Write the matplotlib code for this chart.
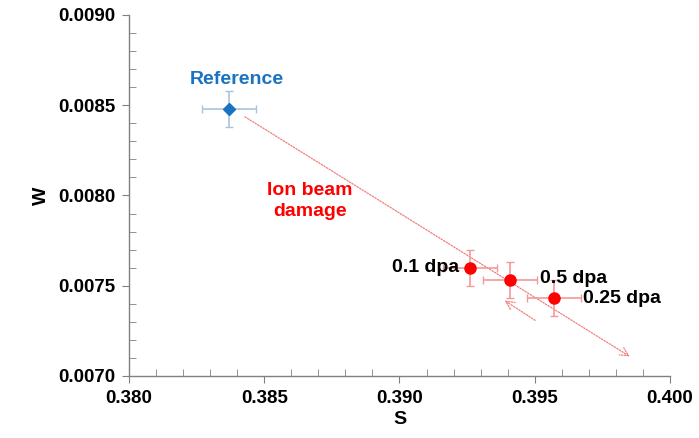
import numpy as np
import matplotlib.pyplot as plt
from matplotlib.ticker import MultipleLocator, FormatStrFormatter

plt.rcParams['font.family'] = ['Liberation Sans', 'DejaVu Sans']
plt.rcParams['font.weight'] = 'bold'

# reference sample
ref_s = [0.3837]
ref_w = [0.00848]
ref_s_err = [0.0010]
ref_w_err = [0.0001]

# ion beam damaged samples
dmg_labels = ['0.1 dpa', '0.5 dpa', '0.25 dpa']
dmg_s = [0.3926, 0.3941, 0.3957]
dmg_w = [0.00760, 0.00753, 0.00743]
dmg_s_err = [0.0010, 0.0010, 0.0010]
dmg_w_err = [0.0001, 0.0001, 0.0001]

# trend arrows (start, end) in data units
big_arrow = [(0.3842, 0.008444), (0.3986, 0.00710)]
small_arrow = [(0.3951, 0.00730), (0.3938, 0.007426)]

fig = plt.figure(figsize=(6.99, 4.38), dpi=100)
ax = fig.add_axes([0.1845, 0.1416, 0.774, 0.8242])

ax.errorbar(ref_s, ref_w, xerr=ref_s_err, yerr=ref_w_err, fmt='D',
            color='#1a72c2', ms=6, ecolor='#a9c3df', elinewidth=1.2,
            capsize=3, capthick=1.0, zorder=3)
ax.errorbar(dmg_s, dmg_w, xerr=dmg_s_err, yerr=dmg_w_err, fmt='o',
            color='#ff0000', ms=8, ecolor='#f29a9a', elinewidth=1.2,
            capsize=3, capthick=1.0, zorder=3)

arrow_style = dict(arrowstyle='->,head_length=0.6,head_width=0.3', color='#f27c7c',
                   lw=0.9, linestyle=(0, (1.2, 1.2)))
ax.annotate('', xy=big_arrow[1], xytext=big_arrow[0], arrowprops=arrow_style, zorder=2)
ax.annotate('', xy=small_arrow[1], xytext=small_arrow[0], arrowprops=arrow_style, zorder=2)

ax.text(0.3840, 0.00864, 'Reference', color='#1a72c2', fontsize=14,
        fontweight='bold', ha='center', va='center')
ax.text(0.3867, 0.00797, 'Ion beam\ndamage', color='#ff0000', fontsize=14,
        fontweight='bold', ha='center', va='center', linespacing=1.25)

label_pos = [(-0.0004, 0.0, 'right'), (0.0011, 0.00001, 'left'), (0.0011, 0.0, 'left')]
for lab, s, w, (dx, dy, ha) in zip(dmg_labels, dmg_s, dmg_w, label_pos):
    ax.text(s + dx, w + dy, lab, fontsize=14, fontweight='bold',
            ha=ha, va='center', color='black')

ax.set_xlim(0.380, 0.400)
ax.set_ylim(0.0070, 0.0090)
ax.xaxis.set_major_locator(MultipleLocator(0.005))
ax.xaxis.set_minor_locator(MultipleLocator(0.001))
ax.yaxis.set_major_locator(MultipleLocator(0.0005))
ax.yaxis.set_minor_locator(MultipleLocator(0.0001))
ax.xaxis.set_major_formatter(FormatStrFormatter('%.3f'))
ax.yaxis.set_major_formatter(FormatStrFormatter('%.4f'))

for side in ['top', 'right']:
    ax.spines[side].set_visible(False)
for side in ['left', 'bottom']:
    ax.spines[side].set_color('#808080')
    ax.spines[side].set_linewidth(1.0)

ax.tick_params(axis='both', which='major', direction='out', length=5,
               color='#808080', labelsize=13.5, pad=5)
ax.tick_params(axis='both', which='minor', direction='in', length=5, color='#808080')
for lbl in ax.get_xticklabels() + ax.get_yticklabels():
    lbl.set_fontweight('bold')

ax.set_xlabel('S', fontsize=14, fontweight='bold', labelpad=3)
ax.set_ylabel('W', fontsize=14, fontweight='bold', labelpad=6)

fig.savefig('out.png', dpi=100)
